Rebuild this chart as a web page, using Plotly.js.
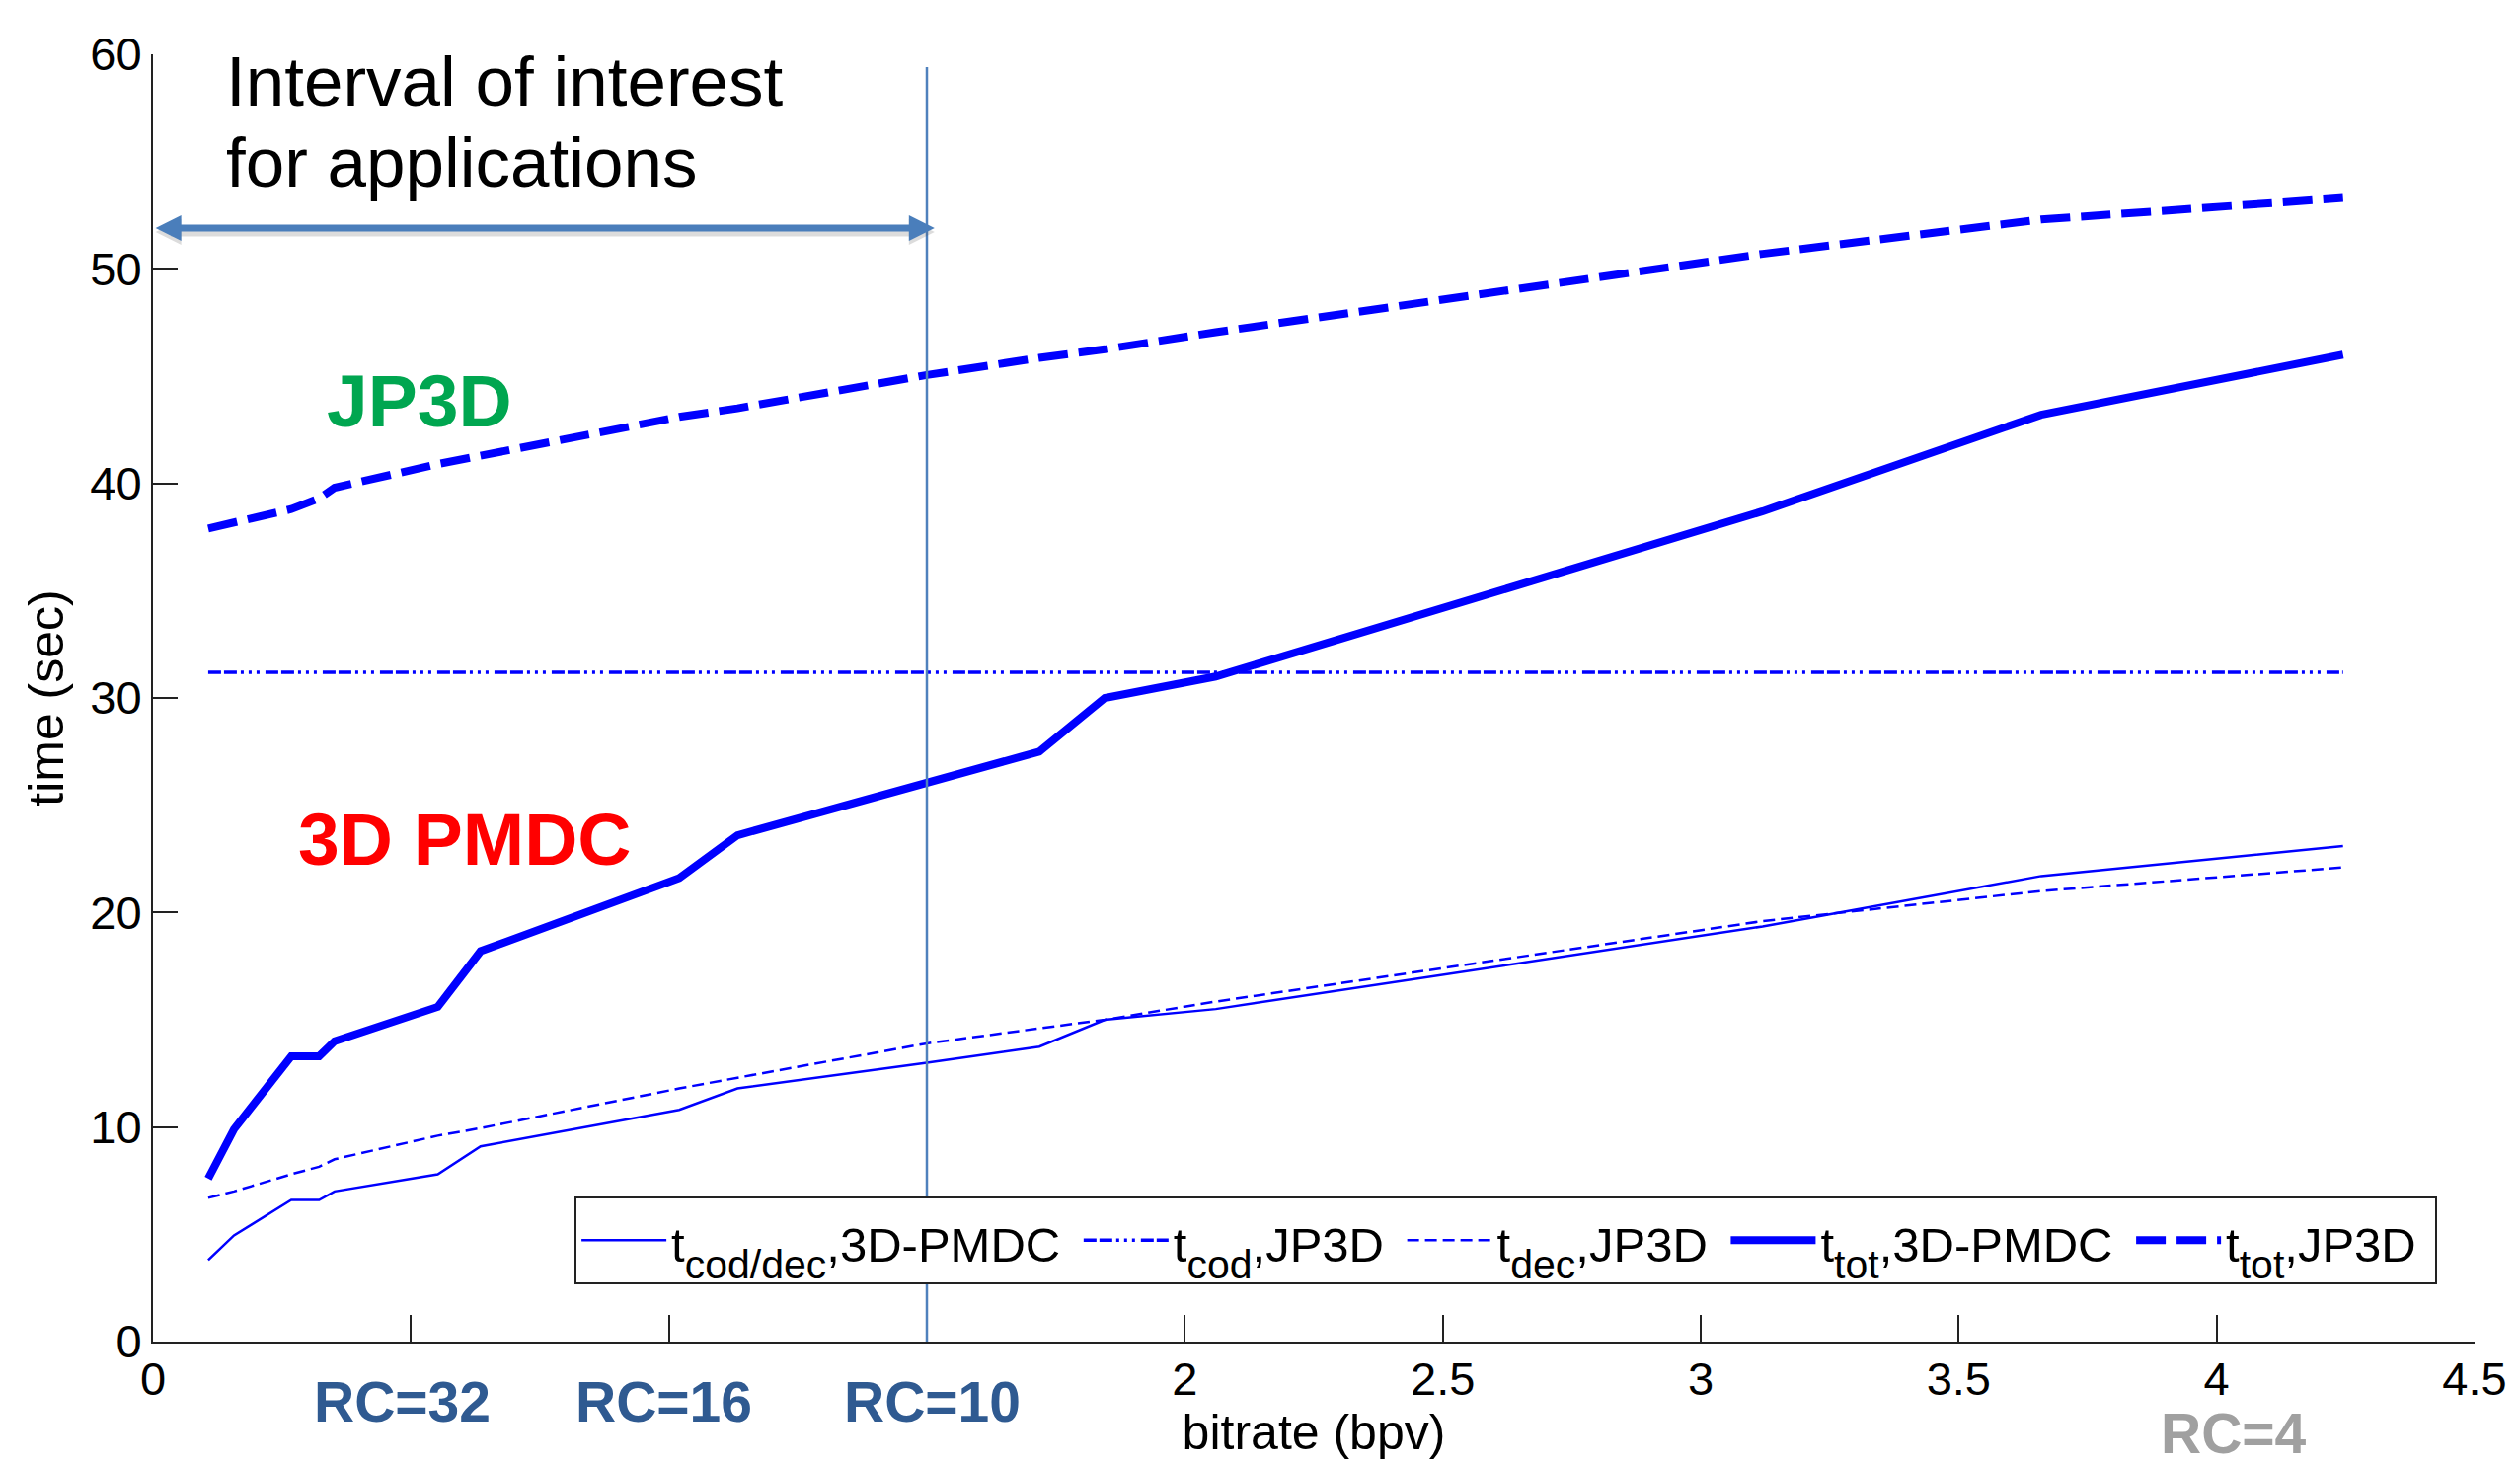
<!DOCTYPE html>
<html>
<head>
<meta charset="utf-8">
<script src="https://cdn.plot.ly/plotly-3.0.1.min.js"></script>
<style>
  html, body { margin: 0; padding: 0; background: #ffffff; }
  #chart { width: 2553px; height: 1484px; }
</style>
</head>
<body>
<div id="chart"></div>
<script>
// Bitrate (bpv) of each measured operating point
const bitrate      = [0.107, 0.157, 0.268, 0.322, 0.352, 0.552, 0.635, 1.02, 1.133, 1.5, 1.718, 1.845, 2.06, 3.12, 3.66, 4.245];
// Times in seconds
const codDecPMDC   = [3.8, 4.95, 6.6, 6.6, 7.0, 7.8, 9.1, 10.8, 11.8, 13.0, 13.75, 15.0, 15.5, 19.35, 21.7, 23.1];
const codJP3D      = [31.2, 31.2, 31.2, 31.2, 31.2, 31.2, 31.2, 31.2, 31.2, 31.2, 31.2, 31.2, 31.2, 31.2, 31.2, 31.2];
const decJP3D      = [6.7, 7.0, 7.8, 8.15, 8.5, 9.6, 9.95, 11.8, 12.3, 13.9, 14.6, 15.0, 15.85, 19.6, 21.0, 22.1];
const totPMDC      = [7.6, 9.9, 13.3, 13.3, 14.0, 15.6, 18.2, 21.6, 23.6, 26.0, 27.5, 30.0, 31.0, 38.7, 43.2, 46.0];
const totJP3D      = [37.9, 38.2, 38.8, 39.3, 39.8, 40.9, 41.3, 43.1, 43.5, 45.05, 45.85, 46.25, 47.05, 50.7, 52.3, 53.3];

// Legend entries: symbol "t", a lowered subscript, then the codec
const seriesSymbol = ['cod/dec', 'cod', 'dec', 'tot', 'tot'];
const seriesCodec  = ['3D-PMDC', 'JP3D', 'JP3D', '3D-PMDC', 'JP3D'];

// Axis ticks
const xTickVals  = [0, 2, 2.5, 3, 3.5, 4, 4.5];
const xTickText  = ['0', '2', '2.5', '3', '3.5', '4', '4.5'];
const xMinorVals = [0.5, 1, 1.5];
const yTickVals  = [0, 10, 20, 30, 40, 50, 60];

// Rate-control operating points labelled under the axis
const rcLabels  = ['RC=32', 'RC=16', 'RC=10', 'RC=4'];
const rcBitrate = [0.484, 0.991, 1.51, 4.034];

// Interval of interest: bitrate span and the height of its arrow
const intervalStart = 0.005;
const intervalEnd   = 1.5;
const intervalArrowY = 51.9;

const FONT = 'Liberation Sans, Arial, Helvetica, sans-serif';
const BLUE = '#0000ff';
const STEEL = '#4f81bd';
const ARROW = '#4a7ebb';

function legendName(i) {
  return '<span style="font-size:49px">t<span style="font-size:41px;baseline-shift:-17px">' +
    seriesSymbol[i] + '</span>,' + seriesCodec[i] + '\u00a0</span>';
}

const traces = [
  { x: bitrate, y: codDecPMDC, name: legendName(0), mode: 'lines',
    line: { color: BLUE, width: 2.5 } },
  { x: bitrate, y: codJP3D, name: legendName(1), mode: 'lines',
    line: { color: BLUE, width: 3.5, dash: '13px,3px,13px,4px,3px,5px,3px,5px,3px,6px' } },
  { x: bitrate, y: decJP3D, name: legendName(2), mode: 'lines',
    line: { color: BLUE, width: 2.5, dash: '12px,6px' } },
  { x: bitrate, y: totPMDC, name: legendName(3), mode: 'lines',
    line: { color: BLUE, width: 8 } },
  { x: bitrate, y: totJP3D, name: legendName(4), mode: 'lines',
    line: { color: BLUE, width: 8, dash: '30px,11px' } }
];

const annotations = [
  { x: 0.138, y: 58.74, xref: 'x', yref: 'y', xanchor: 'left', yanchor: 'middle', showarrow: false,
    text: 'Interval of interest', font: { family: FONT, size: 71, color: '#000' } },
  { x: 0.138, y: 54.98, xref: 'x', yref: 'y', xanchor: 'left', yanchor: 'middle', showarrow: false,
    text: 'for applications', font: { family: FONT, size: 71, color: '#000' } },
  { x: 0.517, y: 43.83, xref: 'x', yref: 'y', xanchor: 'center', yanchor: 'middle', showarrow: false,
    text: '<b>JP3D</b>', font: { family: FONT, size: 75, color: '#00a650' } },
  { x: 0.605, y: 23.43, xref: 'x', yref: 'y', xanchor: 'center', yanchor: 'middle', showarrow: false,
    text: '<b>3D PMDC</b>', font: { family: FONT, size: 75, color: '#ff0000' } }
];

rcLabels.forEach(function (label, i) {
  const last = i === rcLabels.length - 1;
  const note = {
    x: rcBitrate[i], y: last ? -0.0713 : -0.0468, xref: 'x', yref: 'paper',
    xanchor: 'center', yanchor: 'middle', showarrow: false,
    text: '<b>' + label + '</b>',
    font: { family: FONT, size: 57, color: last ? '#a0a0a0' : '#2f5a91' }
  };
  // the last label sits right at the bottom edge, so keep its box tight
  if (last) { note.height = 52; note.valign = 'middle'; }
  annotations.push(note);
});

// Two-headed arrow: shaft plus triangular heads sized in pixels, with a soft drop shadow
function arrowShapes(color, yOffsetPx, shaftWidth) {
  const shaftY = intervalArrowY - yOffsetPx * 60 / 1304;
  return [
    { type: 'line', xref: 'x', yref: 'y', x0: intervalStart + 0.03, x1: intervalEnd - 0.02,
      y0: shaftY, y1: shaftY, line: { color: color, width: shaftWidth } },
    { type: 'path', xref: 'x', yref: 'y', xsizemode: 'pixel', ysizemode: 'pixel',
      xanchor: intervalEnd + 0.015, yanchor: shaftY,
      path: 'M0,0 L-26,-13 L-26,13 Z', fillcolor: color, line: { width: 0 } },
    { type: 'path', xref: 'x', yref: 'y', xsizemode: 'pixel', ysizemode: 'pixel',
      xanchor: intervalStart, yanchor: shaftY,
      path: 'M0,0 L26,-13 L26,13 Z', fillcolor: color, line: { width: 0 } }
  ];
}

const shapes = [
  { type: 'line', xref: 'x', yref: 'y', x0: intervalEnd, x1: intervalEnd, y0: 0, y1: 59.4,
    line: { color: STEEL, width: 2.5 } }
].concat(arrowShapes('rgba(80,80,80,0.2)', 4, 9), arrowShapes(ARROW, 0, 7));

const axisCommon = {
  showgrid: false, zeroline: false, showline: true, linecolor: '#222', linewidth: 2,
  ticks: 'inside', tickwidth: 2, tickcolor: '#222', mirror: false,
  tickfont: { family: FONT, size: 47, color: '#000' }, automargin: false, fixedrange: true
};

const layout = {
  width: 2553, height: 1484,
  margin: { l: 155, r: 46, t: 55, b: 125, pad: 0 },
  paper_bgcolor: '#ffffff', plot_bgcolor: '#ffffff',
  font: { family: FONT, size: 46, color: '#000' },
  showlegend: true,
  legend: {
    orientation: 'h', x: 0.1816, y: 0.1127, xanchor: 'left', yanchor: 'top',
    bgcolor: '#ffffff', bordercolor: '#222', borderwidth: 2,
    font: { family: FONT, size: 55, color: '#000' },
    itemwidth: 86, traceorder: 'normal'
  },
  xaxis: Object.assign({}, axisCommon, {
    range: [0, 4.5], tickmode: 'array', tickvals: xTickVals, ticktext: xTickText, ticklen: 27,
    ticklabelstandoff: -4,
    minor: { tickmode: 'array', tickvals: xMinorVals, ticks: 'inside', ticklen: 27, tickwidth: 2, tickcolor: '#222', showgrid: false },
    title: { text: 'bitrate (bpv)', standoff: 2, font: { family: FONT, size: 50, color: '#000' } }
  }),
  yaxis: Object.assign({}, axisCommon, {
    range: [0, 60], tickmode: 'array', tickvals: yTickVals, ticklen: 25,
    title: { text: 'time (sec)', standoff: 11, font: { family: FONT, size: 50, color: '#000' } }
  }),
  shapes: shapes,
  annotations: annotations
};

Plotly.newPlot('chart', traces, layout, { displayModeBar: false, staticPlot: true });
</script>
</body>
</html>
